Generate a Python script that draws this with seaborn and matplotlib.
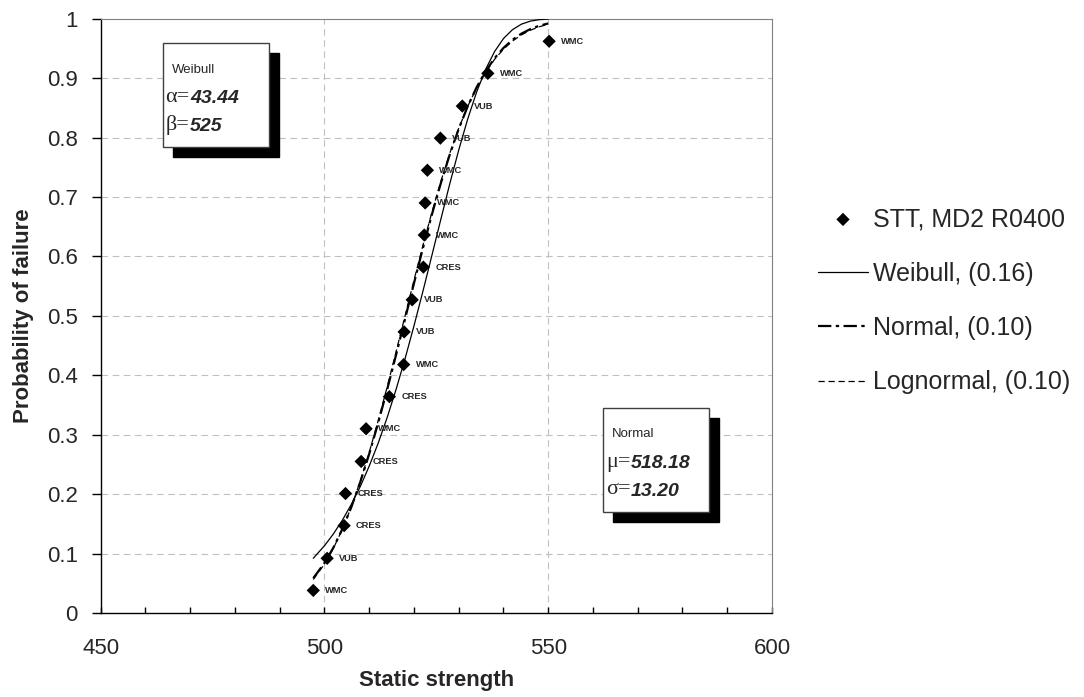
import matplotlib
matplotlib.use("Agg")
import matplotlib.pyplot as plt
import seaborn as sns
import pandas as pd
from matplotlib.patches import Rectangle
from matplotlib.ticker import MultipleLocator, FixedLocator

# ---------------- data ----------------
strength = [497.5, 500.6, 504.4, 504.7, 508.2, 509.3, 514.5, 517.7, 517.8,
            519.6, 522.1, 522.3, 522.5, 523.0, 525.9, 530.8, 536.5, 550.2]
prob = [0.038, 0.092, 0.147, 0.201, 0.255, 0.310, 0.364, 0.418, 0.473,
        0.527, 0.582, 0.636, 0.690, 0.745, 0.799, 0.853, 0.908, 0.962]
lab = ["WMC", "VUB", "CRES", "CRES", "CRES", "WMC", "CRES", "WMC", "VUB",
       "VUB", "CRES", "WMC", "WMC", "WMC", "VUB", "VUB", "WMC", "WMC"]

curve_x = [497.5, 500, 502, 504, 506, 508, 510, 512, 514, 516, 518, 520, 522,
           524, 526, 528, 530, 532, 534, 536, 538, 540, 542, 544, 546, 548, 550]
weibull_y = [0.0921, 0.1132, 0.1331, 0.1562, 0.1827, 0.2128, 0.2472, 0.2857,
             0.3287, 0.3762, 0.4277, 0.4831, 0.5414, 0.6016, 0.6624, 0.7222,
             0.7790, 0.8310, 0.8766, 0.9146, 0.9446, 0.9666, 0.9815, 0.9908,
             0.9959, 0.9984, 0.9995]
normal_y = [0.0586, 0.0842, 0.1101, 0.1414, 0.1781, 0.2203, 0.2677, 0.3198,
            0.3757, 0.4344, 0.4946, 0.5548, 0.6139, 0.6704, 0.7232, 0.7715,
            0.8147, 0.8524, 0.8846, 0.9115, 0.9334, 0.9508, 0.9644, 0.9748,
            0.9825, 0.9881, 0.9920]
lognormal_y = [0.0564, 0.0824, 0.1089, 0.1409, 0.1786, 0.2218, 0.2704, 0.3234,
               0.3801, 0.4395, 0.4998, 0.5599, 0.6185, 0.6742, 0.7261, 0.7735,
               0.8156, 0.8523, 0.8838, 0.9099, 0.9315, 0.9487, 0.9623, 0.9727,
               0.9806, 0.9864, 0.9907]

series_labels = ["STT, MD2 R0400", "Weibull, (0.16)", "Normal, (0.10)",
                 "Lognormal, (0.10)"]
x_ticks = [450, 500, 550, 600]
y_ticks = [0, 0.1, 0.2, 0.3, 0.4, 0.5, 0.6, 0.7, 0.8, 0.9, 1.0]
y_ticklabels = ["0", "0.1", "0.2", "0.3", "0.4", "0.5", "0.6", "0.7", "0.8", "0.9", "1"]

# ---------------- style ----------------
sns.set_style("white")
plt.rcParams["font.family"] = ["Liberation Sans", "DejaVu Sans"]

W, H = 1084, 697
fig = plt.figure(figsize=(W / 100, H / 100), dpi=100)
ax_l, ax_r, ax_t, ax_b = 100.7, 772.0, 18.7, 613.0
ax = fig.add_axes([ax_l / W, 1 - ax_b / H, (ax_r - ax_l) / W, (ax_b - ax_t) / H])


def fx(px):
    return px / W


def fy(py):
    return 1 - py / H


# grid
for gx in [500, 550]:
    ax.axvline(gx, color="#c0c0c0", lw=0.8, ls=(0, (6, 4)), zorder=0)
for gy in y_ticks[1:-1]:
    ax.axhline(gy, color="#c0c0c0", lw=0.8, ls=(0, (6, 4)), zorder=0)

# curves
curves = pd.DataFrame({"x": curve_x, "weibull": weibull_y,
                       "normal": normal_y, "lognormal": lognormal_y})
sns.lineplot(data=curves, x="x", y="weibull", ax=ax, color="black", lw=0.9,
             estimator=None, sort=False, label=series_labels[1], zorder=3)
sns.lineplot(data=curves, x="x", y="normal", ax=ax, color="black", lw=1.6,
             estimator=None, sort=False, label=series_labels[2], zorder=3)
sns.lineplot(data=curves, x="x", y="lognormal", ax=ax, color="black", lw=0.9,
             estimator=None, sort=False, label=series_labels[3], zorder=3)
ln_w, ln_n, ln_l = ax.lines[-3], ax.lines[-2], ax.lines[-1]
ln_n.set_linestyle((0, (6, 2, 1.5, 2)))
ln_l.set_linestyle((0, (5, 3)))

# points
pts = pd.DataFrame({"strength": strength, "prob": prob, "lab": lab})
sns.scatterplot(data=pts, x="strength", y="prob", ax=ax, marker="D", s=46,
                color="black", edgecolor="none", label=series_labels[0],
                zorder=5)
for xv, yv, t in zip(strength, prob, lab):
    ax.annotate(t, (xv, yv), xytext=(8.6, 0), textcoords="offset points",
                fontsize=6.7, fontweight="bold", va="center", ha="left",
                zorder=6)

# axes
ax.set_xlim(450, 600)
ax.set_ylim(0, 1)
ax.xaxis.set_major_locator(FixedLocator(x_ticks))
ax.xaxis.set_minor_locator(MultipleLocator(10))
ax.set_yticks(y_ticks)
ax.set_yticklabels(y_ticklabels)
ax.tick_params(axis="x", which="both", direction="in", length=4.3, width=1,
               color="black", labelsize=16, pad=18, bottom=True, top=False)
ax.tick_params(axis="y", which="major", direction="out", length=6.5, width=1,
               color="black", labelsize=16, pad=10, left=True, right=False)
for s in ["left", "bottom"]:
    ax.spines[s].set_color("black")
    ax.spines[s].set_linewidth(1.0)
for s in ["top", "right"]:
    ax.spines[s].set_color("#808080")
    ax.spines[s].set_linewidth(0.8)
ax.set_xlabel("Static strength", fontsize=16, fontweight="bold")
ax.set_ylabel("Probability of failure", fontsize=16, fontweight="bold")
ax.xaxis.set_label_coords(0.5, (ax_b - 669.7) / (ax_b - ax_t))
ax.yaxis.set_label_coords((34 - ax_l) / (ax_r - ax_l), 0.5)

# legend
handles, labels = ax.get_legend_handles_labels()
order = [labels.index(l) for l in series_labels]
if ax.get_legend() is not None:
    ax.get_legend().remove()
fig.legend([handles[i] for i in order], [labels[i] for i in order],
           loc="upper left", bbox_to_anchor=(fx(818), fy(207)), frameon=False,
           borderpad=0, borderaxespad=0, handlelength=2.0, handletextpad=0.2,
           labelspacing=1.22, fontsize=18)


# parameter boxes
def param_box(left, top, title, sym1, val1, sym2, val2):
    w, h = 106, 104
    fig.add_artist(Rectangle((fx(left + 10), fy(top + 10 + h)), w / W, h / H,
                             transform=fig.transFigure, facecolor="black",
                             edgecolor="black", zorder=8))
    fig.add_artist(Rectangle((fx(left), fy(top + h)), w / W, h / H,
                             transform=fig.transFigure, facecolor="white",
                             edgecolor="#404040", lw=1.0, zorder=9))
    fig.text(fx(left + 9), fy(top + 29.4), title, fontsize=9.5, va="baseline",
             ha="left", zorder=10)
    for k, (sym, val) in enumerate([(sym1, val1), (sym2, val2)]):
        base = top + 58.5 + 28 * k
        fig.text(fx(left + 2.5), fy(base), sym + "=", fontsize=16,
                 family=["Liberation Serif", "DejaVu Serif"], va="baseline",
                 ha="left", zorder=10)
        fig.text(fx(left + 27.5), fy(base + 1), val, fontsize=14,
                 fontweight="bold", fontstyle="italic", va="baseline",
                 ha="left", zorder=10)


param_box(162.7, 43.3, "Weibull", "\u03b1", "43.44", "\u03b2", "525")
param_box(603.3, 408.0, "Normal", "\u03bc", "518.18", "\u03c3", "13.20")

fig.savefig("out.png", dpi=100)
